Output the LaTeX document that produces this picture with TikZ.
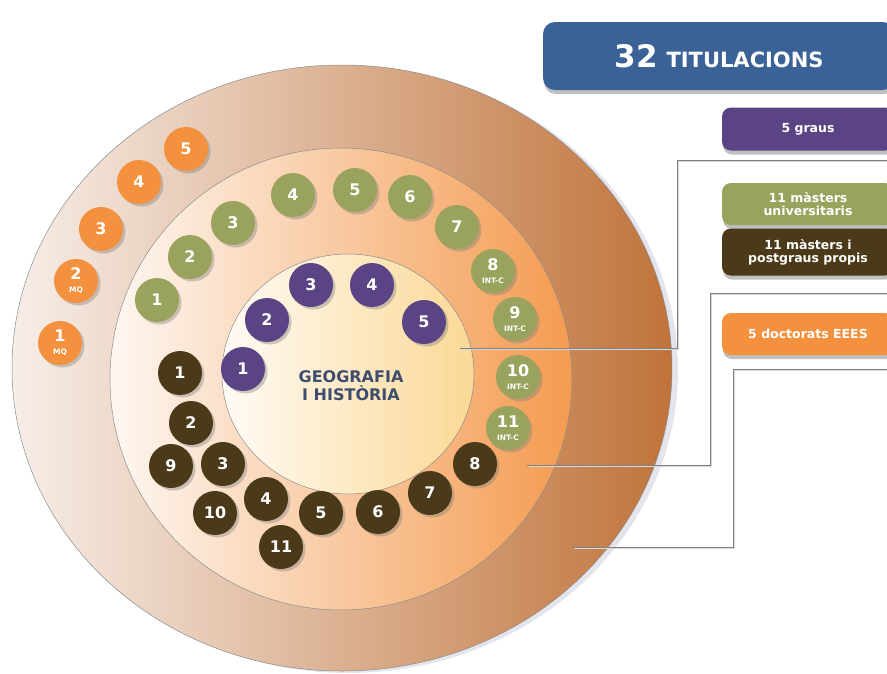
\documentclass[tikz,border=0pt]{standalone}
\usepackage{fontspec}
\setmainfont{DejaVu Sans}
\usetikzlibrary{shapes.geometric,shadows}

\definecolor{titleblue}{HTML}{3A6296}
\definecolor{grauviolet}{HTML}{5A4484}
\definecolor{masterolive}{HTML}{9AA35E}
\definecolor{propibrown}{HTML}{4B3A19}
\definecolor{doctorange}{HTML}{F4913F}
\definecolor{centertext}{HTML}{3E4C6E}
\definecolor{outerlight}{HTML}{F7EEE8}
\definecolor{outerdark}{HTML}{C0733A}
\definecolor{midlight}{HTML}{FDF7F1}
\definecolor{middark}{HTML}{F49B50}
\definecolor{innerlight}{HTML}{FFFBF5}
\definecolor{innerdark}{HTML}{FBD895}

\newcommand{\subtag}[1]{{\fontsize{7.5}{7.5}\selectfont #1}}

\begin{document}
\begin{tikzpicture}[x=1pt,y=-1pt]
      \tikzstyle{ring}=[inner sep=0pt,draw=black!45,line width=0.5pt]
      \tikzstyle{badge}=[circle,minimum size=44pt,inner sep=0pt,align=center,text=white,font=\bfseries\fontsize{16}{13}\selectfont,drop shadow={shadow xshift=2.5pt,shadow yshift=-2.5pt,opacity=.4}]
      \tikzstyle{grau}=[badge,fill=grauviolet]
      \tikzstyle{master}=[badge,fill=masterolive]
      \tikzstyle{propi}=[badge,fill=propibrown]
      \tikzstyle{doctorat}=[badge,fill=doctorange]
      \tikzstyle{tag}=[rounded corners=9pt,minimum width=172pt,minimum height=43pt,inner sep=0pt,align=center,text=white,font=\bfseries\fontsize{12.5}{13}\selectfont,drop shadow={shadow xshift=1pt,shadow yshift=-4pt,opacity=.5}]
      \tikzstyle{link}=[draw=black!50,line width=1pt]
      \tikzstyle{linkshadow}=[draw=black!15,line width=1.5pt,transform canvas={xshift=1.5pt,yshift=-1.5pt}]

      \useasboundingbox (0,0) rectangle (887,673);
      \clip (0,0) rectangle (887,673);

      % rings
      \node[ring,ellipse,minimum width=660pt,minimum height=606pt,left color=outerlight,right color=outerdark,drop shadow={shadow xshift=6pt,shadow yshift=-2pt,fill=blue!30!black!35,opacity=.3}] (outerRing) at (342,368) {};
      \node[ring,circle,minimum size=462pt,left color=midlight,right color=middark] (midRing) at (341,379) {};
      \node[ring,ellipse,minimum width=252pt,minimum height=240pt,left color=innerlight,right color=innerdark] (innerRing) at (348,374) {};
      \node[text=centertext,font=\bfseries\fontsize{16}{18}\selectfont,align=center] (faculty) at (351,386) {GEOGRAFIA\\I HISTÒRIA};

      % graus
      \node[grau] (g1) at (243,369) {1};
      \node[grau] (g2) at (267,320) {2};
      \node[grau] (g3) at (311,285) {3};
      \node[grau] (g4) at (372,285) {4};
      \node[grau] (g5) at (424,322) {5};

      % masters universitaris
      \node[master] (m1) at (157,300) {1};
      \node[master] (m2) at (190,257) {2};
      \node[master] (m3) at (233,223) {3};
      \node[master] (m4) at (293,195) {4};
      \node[master] (m5) at (355,190) {5};
      \node[master] (m6) at (410,197) {6};
      \node[master] (m7) at (457,227) {7};
      \node[master] (m8) at (493,271) {8\\\subtag{INT-C}};
      \node[master] (m9) at (515,319) {9\\\subtag{INT-C}};
      \node[master] (m10) at (518,377) {10\\\subtag{INT-C}};
      \node[master] (m11) at (508,428) {11\\\subtag{INT-C}};

      % masters i postgraus propis
      \node[propi] (p1) at (180,373) {1};
      \node[propi] (p2) at (191,423) {2};
      \node[propi] (p3) at (223,464) {3};
      \node[propi] (p4) at (266,499) {4};
      \node[propi] (p5) at (321,513) {5};
      \node[propi] (p6) at (378,512) {6};
      \node[propi] (p7) at (430,493) {7};
      \node[propi] (p8) at (475,464) {8};
      \node[propi] (p9) at (171,466) {9};
      \node[propi] (p10) at (215,513) {10};
      \node[propi] (p11) at (281,547) {11};

      % doctorats
      \node[doctorat] (d1) at (60,343) {1\\\subtag{MQ}};
      \node[doctorat] (d2) at (76,281) {2\\\subtag{MQ}};
      \node[doctorat] (d3) at (101,229) {3};
      \node[doctorat] (d4) at (139,182) {4};
      \node[doctorat] (d5) at (186,149) {5};

      % legend
      \node[tag,fill=titleblue,minimum width=352pt,minimum height=68pt,rounded corners=12pt,font=\bfseries] (total) at (719,56) {{\fontsize{31}{31}\selectfont 32}\hspace{9pt}{\fontsize{21}{21}\selectfont TITULACIONS}};
      \node[tag,fill=grauviolet] (grausBox) at (808,129) {5 graus};
      \node[tag,fill=masterolive,minimum height=42pt] (masterBox) at (808,204) {11 màsters\\universitaris};
      \node[tag,fill=propibrown,minimum height=47pt] (propiBox) at (808,252) {11 màsters i\\postgraus propis};
      \node[tag,fill=doctorange,minimum height=42pt] (doctoratBox) at (808,334) {5 doctorats EEES};

      % connectors
      \coordinate (grausFrom) at (460,348);
      \coordinate (grausBend) at (677,160);
      \coordinate (grausTo) at (892,160);
      \coordinate (mastersFrom) at (527,465);
      \coordinate (mastersBend) at (710,293);
      \coordinate (mastersTo) at (892,293);
      \coordinate (doctoratsFrom) at (572,547);
      \coordinate (doctoratsBend) at (733,369);
      \coordinate (doctoratsTo) at (892,369);

      \draw[linkshadow] (grausFrom) -| (grausBend) -- (grausTo);
      \draw[linkshadow] (mastersFrom) -| (mastersBend) -- (mastersTo);
      \draw[linkshadow] (doctoratsFrom) -| (doctoratsBend) -- (doctoratsTo);
      \draw[link] (grausFrom) -| (grausBend) -- (grausTo);
      \draw[link] (mastersFrom) -| (mastersBend) -- (mastersTo);
      \draw[link] (doctoratsFrom) -| (doctoratsBend) -- (doctoratsTo);
    \end{tikzpicture}
\end{document}
